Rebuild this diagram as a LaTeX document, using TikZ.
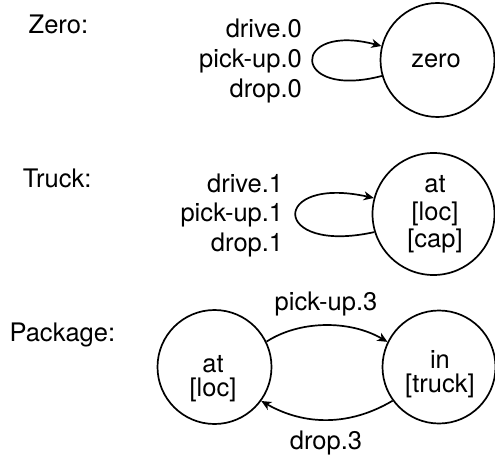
\documentclass[tikz,border=0pt]{standalone}
\usepackage{fontspec}
\setmainfont{TeX Gyre Heros}
\usetikzlibrary{arrows.meta}
\begin{document}
\begin{tikzpicture}[x=1pt,y=-1pt,
  every node/.style={font=\fontsize{25.5}{30}\selectfont, inner sep=0pt},
  state/.style={circle, draw, line width=1.7pt, inner sep=0pt},
  link/.style={line width=1.7pt, -{Stealth[length=10pt,width=9pt,inset=3pt]}},
  lbl/.style={anchor=base east},
  txt/.style={anchor=base},
  head/.style={anchor=base west}
]
\useasboundingbox (0,0) rectangle (495,457);

% section headings
\node[head] (hzero)  at (28.5,33.5)  {Zero:};
\node[head] (htruck) at (22.7,187.3) {Truck:};
\node[head] (hpkg)   at (9.3,341.7)  {Package:};

% Zero automaton
\node[state, minimum size=114pt] (zero) at (437.5,60) {};
\node[txt] (zerot) at (436,67.5) {zero};
\node[lbl] (z1) at (302,38) {drive.0};
\node[lbl] (z2) at (302,68) {pick-up.0};
\node[lbl] (z3) at (302,98) {drop.0};
\draw[link] (zero.196) .. controls (290,100) and (290,22) .. (zero.166);

% Truck automaton
\node[state, minimum size=122pt] (truck) at (433.5,214) {};
\node[txt] (tr1) at (435,193) {at};
\node[txt] (tr2) at (435,220) {[loc]};
\node[txt] (tr3) at (435,247) {[cap]};
\node[lbl] (t1) at (283.3,193) {drive.1};
\node[lbl] (t2) at (283.3,222) {pick-up.1};
\node[lbl] (t3) at (283.3,251) {drop.1};
\draw[link] (truck.197) .. controls (270,255) and (270,175) .. (truck.165);

% Package automaton
\node[state, minimum size=114pt] (pat) at (214.5,367) {};
\node[txt] (pat1) at (213,372.5) {at};
\node[txt] (pat2) at (213,396) {[loc]};
\node[state, minimum size=113pt] (pin) at (439,367) {};
\node[txt] (pin1) at (440,368.5) {in};
\node[txt] (pin2) at (440,392) {[truck]};
\node[txt] (lpick) at (326,310.7) {pick-up.3};
\node[txt] (ldrop) at (326,449) {drop.3};
\draw[link] (pat.26) .. controls (300,320) and (350,320) .. (pin.154);
\draw[link] (pin.216) .. controls (350,426) and (305,426) .. (pat.324);
\end{tikzpicture}
\end{document}
